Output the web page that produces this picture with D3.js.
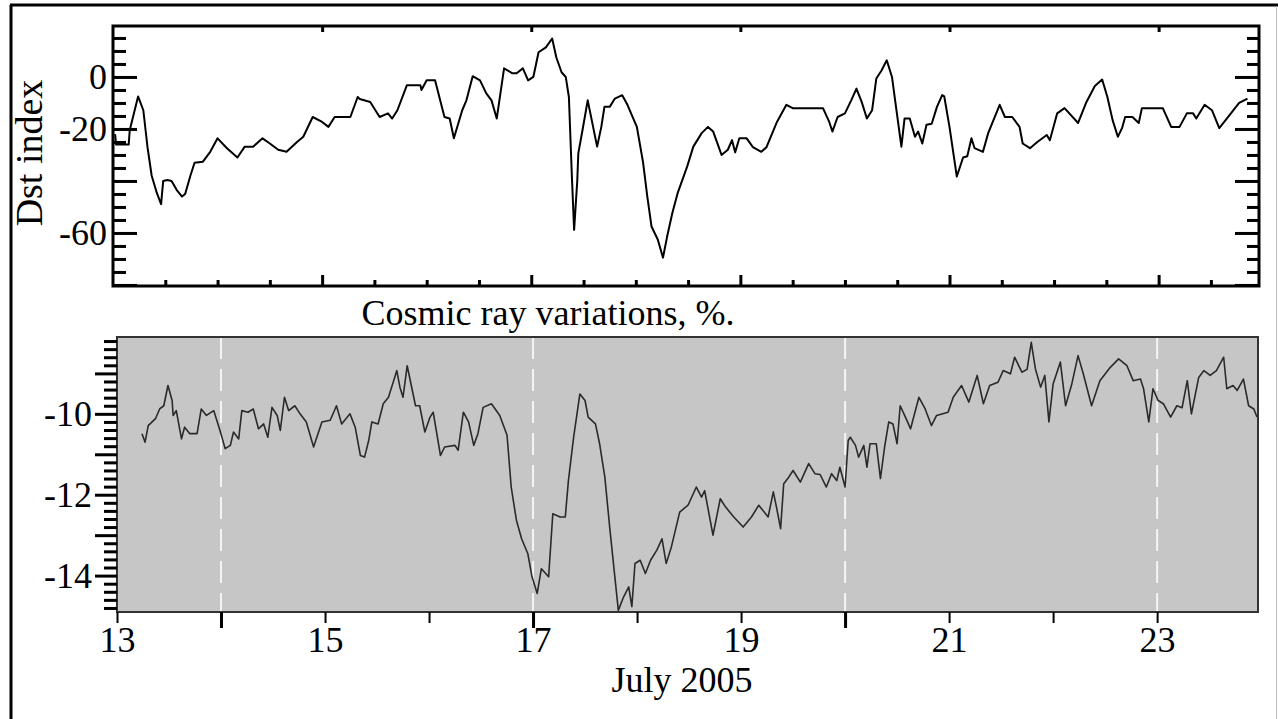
<!DOCTYPE html>
<html>
<head>
<meta charset="utf-8">
<script src="https://cdn.jsdelivr.net/npm/d3@7"></script>
<style>
  body { margin: 0; background: #fff; }
  text { font-family: "Liberation Serif", "Times New Roman", serif; fill: #000; }
</style>
</head>
<body>
<div id="chart"></div>
<script>

// Dst index, July 2005 (day of month, nT)
var dstDays = [13.02,13.03,13.15,13.16,13.24,13.29,13.33,13.37,13.42,13.46,13.48,13.52,13.56,13.61,13.66,13.69,13.74,13.78,13.86,13.93,
  14.00,14.09,14.19,14.26,14.34,14.43,14.50,14.58,14.66,14.76,14.82,14.91,15.00,15.06,15.12,15.27,15.34,15.36,15.46,15.55,
  15.63,15.67,15.72,15.81,15.94,15.95,16.00,16.08,16.17,16.22,16.26,16.34,16.38,16.44,16.51,16.57,16.62,16.67,16.74,16.82,
  16.86,16.92,16.97,17.02,17.07,17.14,17.20,17.24,17.29,17.33,17.36,17.39,17.41,17.44,17.45,17.49,17.54,17.63,17.67,17.70,
  17.75,17.80,17.87,17.92,18.01,18.07,18.11,18.15,18.21,18.26,18.30,18.35,18.40,18.49,18.55,18.63,18.69,18.74,18.82,18.88,
  18.92,18.95,18.99,19.06,19.12,19.20,19.25,19.35,19.44,19.50,19.79,19.85,19.88,19.93,20.00,20.06,20.11,20.16,20.21,20.26,
  20.30,20.35,20.40,20.45,20.48,20.54,20.57,20.62,20.67,20.70,20.74,20.78,20.83,20.88,20.93,20.95,21.00,21.07,21.13,21.17,
  21.21,21.24,21.32,21.37,21.48,21.53,21.60,21.67,21.70,21.77,21.84,21.93,21.96,22.03,22.10,22.23,22.31,22.39,22.46,22.51,
  22.56,22.61,22.65,22.68,22.75,22.81,22.84,23.04,23.12,23.20,23.27,23.33,23.36,23.44,23.51,23.58,23.68,23.77,23.85];
var dstValues = [-22,-26,-26,-20.5,-7.5,-12.8,-27,-38,-44.7,-48.9,-40,-39.6,-40,-43.5,-46,-45,-38,-33,-32.6,-28.8,
  -23.6,-27.4,-31,-26.8,-26.8,-23.6,-25.6,-28,-28.8,-25,-23,-15.4,-17.3,-19.2,-15.4,-15.4,-7.7,-8.5,-9.6,-15.4,
  -14,-16,-12.8,-3.2,-3.2,-5,-1.3,-1.3,-15.4,-16,-23.6,-12.8,-9,0.3,-1.3,-6.3,-9,-16,3.3,1.4,
  1.4,3.3,-1.3,0,9.5,11.4,14.8,7.5,1.8,0,-7.7,-39.6,-58.8,-40,-29.4,-20.5,-9,-26.8,-19.2,-11.5,
  -11.5,-8.3,-7,-10.7,-19.2,-33,-46,-57.5,-62.5,-69.5,-61.3,-52.2,-44.7,-34.6,-26.8,-21.6,-19.2,-21,-30,-28,
  -24.3,-29,-23.6,-23.6,-27,-28.8,-27,-17.3,-10.7,-12,-12,-17.3,-21,-15.4,-14,-9,-4.5,-9.6,-16,-12.8,
  -0.6,2.5,6.4,0,-9,-26.8,-16,-16,-23,-21,-25.6,-18.4,-18,-11.5,-7,-7.5,-19.2,-38.3,-31,-30.5,
  -23.6,-27.4,-28.8,-21.6,-10.7,-15.4,-15.4,-19.2,-25.6,-27.4,-25,-22.3,-24.3,-14,-12,-17.7,-9.6,-3.5,-1,-7.7,
  -16.6,-23,-19.7,-15.4,-15.4,-17.7,-12,-12,-19.2,-19.2,-14,-14,-16,-10.7,-12.8,-19.7,-14.6,-10,-8.3];

// cosmic ray variations, %
var crDays = [13.24,13.27,13.30,13.37,13.41,13.45,13.49,13.53,13.54,13.57,13.62,13.65,13.70,13.77,13.81,13.86,13.93,13.99,14.04,14.09,
  14.12,14.17,14.20,14.26,14.31,14.36,14.41,14.45,14.49,14.54,14.57,14.61,14.65,14.71,14.76,14.82,14.89,14.97,15.05,15.11,
  15.16,15.24,15.29,15.34,15.38,15.42,15.45,15.51,15.56,15.61,15.66,15.69,15.72,15.75,15.79,15.87,15.91,15.96,16.01,16.04,
  16.11,16.15,16.25,16.28,16.33,16.38,16.43,16.47,16.52,16.60,16.68,16.75,16.79,16.84,16.89,16.95,16.99,17.04,17.08,17.15,
  17.19,17.26,17.31,17.34,17.39,17.45,17.50,17.53,17.60,17.64,17.69,17.74,17.79,17.82,17.87,17.92,17.95,17.98,18.03,18.08,
  18.13,18.19,18.24,18.28,18.33,18.41,18.49,18.57,18.62,18.65,18.73,18.80,18.85,18.93,19.02,19.10,19.17,19.26,19.31,19.34,
  19.38,19.41,19.46,19.50,19.57,19.65,19.71,19.76,19.82,19.87,19.92,19.95,20.00,20.03,20.05,20.10,20.13,20.18,20.21,20.24,
  20.30,20.34,20.38,20.42,20.46,20.50,20.53,20.58,20.63,20.71,20.77,20.83,20.88,20.99,21.04,21.12,21.19,21.27,21.33,21.39,
  21.47,21.52,21.59,21.63,21.70,21.75,21.79,21.83,21.88,21.92,21.96,22.00,22.07,22.12,22.18,22.24,22.29,22.37,22.45,22.55,
  22.63,22.71,22.77,22.84,22.87,22.92,22.96,23.01,23.06,23.13,23.19,23.24,23.29,23.33,23.40,23.45,23.51,23.57,23.64,23.67,
  23.73,23.77,23.83,23.88,23.93,23.96];
var crValues = [-10.49,-10.7,-10.29,-10.12,-9.88,-9.8,-9.3,-9.67,-10.04,-9.92,-10.62,-10.33,-10.49,-10.49,-9.88,-10.04,-9.92,-10.41,-10.86,-10.78,
  -10.45,-10.62,-9.92,-9.96,-9.88,-10.37,-10.25,-10.58,-9.84,-10.04,-10.41,-9.59,-9.92,-9.8,-10,-10.2,-10.82,-10.2,-10.16,-9.8,
  -10.25,-10,-10.33,-11.03,-11.07,-10.66,-10.2,-10.25,-9.75,-9.59,-9.18,-8.93,-9.34,-9.59,-8.81,-9.8,-9.8,-10.45,-10.08,-9.96,
  -11.03,-10.82,-10.78,-10.9,-9.96,-10.2,-10.78,-10.49,-9.84,-9.75,-10.04,-10.53,-11.81,-12.63,-13.09,-13.46,-14.03,-14.44,-13.83,-14.03,
  -12.47,-12.55,-12.55,-11.65,-10.58,-9.51,-9.67,-10.08,-10.25,-10.74,-11.56,-12.88,-14.12,-14.86,-14.53,-14.28,-14.77,-13.7,-13.62,-13.95,
  -13.62,-13.37,-13.09,-13.7,-13.29,-12.43,-12.26,-11.81,-12.06,-11.9,-13.0,-12.1,-12.3,-12.55,-12.8,-12.55,-12.26,-12.55,-11.93,-12.3,
  -12.84,-11.73,-11.56,-11.4,-11.69,-11.23,-11.48,-11.5,-11.81,-11.48,-11.65,-11.32,-11.81,-10.66,-10.58,-10.78,-11.07,-10.78,-11.32,-10.74,
  -10.74,-11.6,-10.82,-10.2,-10.25,-10.74,-9.8,-10.08,-10.37,-9.59,-9.88,-10.29,-10.04,-9.96,-9.59,-9.3,-9.71,-9.05,-9.75,-9.3,
  -9.22,-8.93,-9.01,-8.6,-8.97,-8.9,-8.23,-8.89,-9.34,-9.05,-10.2,-9.26,-8.72,-9.8,-9.26,-8.56,-9.01,-9.8,-9.18,-8.85,
  -8.64,-8.81,-9.18,-9.14,-9.38,-10.2,-9.38,-9.67,-9.75,-10.08,-9.8,-9.85,-9.18,-10,-9.1,-8.93,-9.05,-8.93,-8.6,-9.38,
  -9.3,-9.42,-9.14,-9.8,-9.88,-10.08];

var dstLabelTicks = [0, -20, -60];
var crLabelTicks = [-10, -12, -14];
var dayLabels = [13, 15, 17, 19, 21, 23];
var dashedDays = [14, 17, 20, 23];

var width = 1278, height = 719;

var svg = d3.select("#chart").append("svg")
  .attr("width", width)
  .attr("height", height);

// outer frame of the scanned figure
svg.append("line").attr("x1", 11).attr("y1", 5).attr("x2", 11).attr("y2", height)
  .attr("stroke", "#000").attr("stroke-width", 3);
svg.append("line").attr("x1", 10).attr("y1", 5).attr("x2", width).attr("y2", 5)
  .attr("stroke", "#000").attr("stroke-width", 3);
svg.append("line").attr("x1", 1276.5).attr("y1", 6).attr("x2", 1276.5).attr("y2", height)
  .attr("stroke", "#bbb").attr("stroke-width", 1);

// ---------- upper panel: Dst ----------
var pTop = {left: 113, right: 1259, top: 26, bottom: 286};

var xTop = d3.scaleLinear().domain([13, 23.96]).range([pTop.left, pTop.right]);
var yTop = d3.scaleLinear().domain([-80.4, 19.6]).range([pTop.bottom, pTop.top]);

var dst = dstDays.map(function(d, i) { return {day: d, v: dstValues[i]}; });

var minorDst = d3.range(-80, 20, 5).filter(function(v) { return v % 20 != 0; });
var majorDst = d3.range(-80, 20, 20);

function clean(g) {
  g.select(".domain").remove();
  g.selectAll(".tick line").attr("stroke", "#000").attr("stroke-width", 3);
  g.selectAll("text").attr("font-size", 36).attr("fill", "#000");
}

svg.append("g").attr("transform", "translate(" + pTop.left + ",0)")
  .call(d3.axisLeft(yTop).tickValues(minorDst).tickSizeInner(-13).tickFormat(""))
  .call(clean);
svg.append("g").attr("transform", "translate(" + pTop.left + ",0)")
  .call(d3.axisLeft(yTop).tickValues(majorDst).tickSizeInner(-24).tickPadding(6)
    .tickFormat(function(d) { return dstLabelTicks.indexOf(d) >= 0 ? d : ""; }))
  .call(clean);
svg.append("g").attr("transform", "translate(" + pTop.right + ",0)")
  .call(d3.axisLeft(yTop).tickValues(minorDst).tickSizeInner(12).tickFormat(""))
  .call(clean);
svg.append("g").attr("transform", "translate(" + pTop.right + ",0)")
  .call(d3.axisLeft(yTop).tickValues(majorDst).tickSizeInner(24).tickFormat(""))
  .call(clean);

var oddDays = [15, 17, 19, 21, 23];
svg.append("g").attr("transform", "translate(0," + pTop.top + ")")
  .call(d3.axisBottom(xTop).tickValues(oddDays).tickSizeInner(6).tickFormat(""))
  .call(clean);
svg.append("g").attr("transform", "translate(0," + pTop.bottom + ")")
  .call(d3.axisTop(xTop).tickValues(d3.range(13.5, 24, 0.5).filter(function(d) { return oddDays.indexOf(d) < 0; }))
    .tickSizeInner(6).tickFormat(""))
  .call(clean);
svg.append("g").attr("transform", "translate(0," + pTop.bottom + ")")
  .call(d3.axisTop(xTop).tickValues(oddDays).tickSizeInner(11).tickFormat(""))
  .call(clean);

svg.append("path")
  .datum(dst)
  .attr("fill", "none")
  .attr("stroke", "#000")
  .attr("stroke-width", 2)
  .attr("stroke-linejoin", "round")
  .attr("d", d3.line().x(function(d) { return xTop(d.day); }).y(function(d) { return yTop(d.v); }));

svg.append("rect")
  .attr("x", pTop.left).attr("y", pTop.top)
  .attr("width", pTop.right - pTop.left).attr("height", pTop.bottom - pTop.top)
  .attr("fill", "none").attr("stroke", "#000").attr("stroke-width", 3);

svg.append("text")
  .attr("transform", "translate(42,153) rotate(-90)")
  .attr("text-anchor", "middle")
  .attr("font-size", 38)
  .text("Dst index");

// ---------- lower panel: cosmic rays ----------
var pBot = {left: 117, right: 1258, top: 337, bottom: 612};

var xBot = d3.scaleLinear().domain([13, 23.97]).range([pBot.left, pBot.right]);
var yBot = d3.scaleLinear().domain([-14.9, -8.1]).range([pBot.bottom, pBot.top]);

var cr = crDays.map(function(d, i) { return {day: d, v: crValues[i]}; });

svg.append("rect")
  .attr("x", pBot.left).attr("y", pBot.top)
  .attr("width", pBot.right - pBot.left).attr("height", pBot.bottom - pBot.top)
  .attr("fill", "#c6c6c6");

svg.selectAll(".dayline")
  .data(dashedDays)
  .enter()
  .append("line")
  .attr("class", "dayline")
  .attr("x1", function(d) { return xBot(d); })
  .attr("x2", function(d) { return xBot(d); })
  .attr("y1", pBot.top)
  .attr("y2", pBot.bottom)
  .attr("stroke", "#f4f4f4")
  .attr("stroke-width", 2)
  .attr("stroke-dasharray", "22,10");

svg.append("path")
  .datum(cr)
  .attr("fill", "none")
  .attr("stroke", "#2a2a2a")
  .attr("stroke-width", 1.6)
  .attr("stroke-linejoin", "round")
  .attr("d", d3.line().x(function(d) { return xBot(d.day); }).y(function(d) { return yBot(d.v); }));

svg.append("rect")
  .attr("x", pBot.left).attr("y", pBot.top)
  .attr("width", pBot.right - pBot.left).attr("height", pBot.bottom - pBot.top)
  .attr("fill", "none").attr("stroke", "#333").attr("stroke-width", 2);

var minorCr = d3.range(-14.8, -8.1, 0.2).map(function(v) { return Math.round(v * 10) / 10; })
  .filter(function(v) { return v % 1 != 0; });
var majorCr = d3.range(-14, -8, 1);

svg.append("g").attr("transform", "translate(" + pBot.left + ",0)")
  .call(d3.axisLeft(yBot).tickValues(minorCr).tickSizeInner(13).tickFormat(""))
  .call(clean);
svg.append("g").attr("transform", "translate(" + pBot.left + ",0)")
  .call(d3.axisLeft(yBot).tickValues(majorCr).tickSizeInner(22).tickPadding(3)
    .tickFormat(function(d) { return crLabelTicks.indexOf(d) >= 0 ? d : ""; }))
  .call(clean);

svg.append("g").attr("transform", "translate(0," + pBot.bottom + ")")
  .call(d3.axisBottom(xBot).tickValues(d3.range(13, 24, 1)).tickSizeInner(11).tickPadding(3)
    .tickFormat(function(d) { return dayLabels.indexOf(d) >= 0 ? d : ""; }))
  .call(clean)
  .call(function(g) { g.selectAll(".tick line").attr("stroke-width", 2); });
svg.append("g").attr("transform", "translate(0," + pBot.bottom + ")")
  .call(d3.axisBottom(xBot).tickValues([14, 17, 20]).tickSizeInner(16).tickFormat(""))
  .call(clean);

svg.append("text")
  .attr("x", 548).attr("y", 325)
  .attr("text-anchor", "middle")
  .attr("font-size", 36)
  .text("Cosmic ray variations, %.");

svg.append("text")
  .attr("x", 682).attr("y", 692)
  .attr("text-anchor", "middle")
  .attr("font-size", 36)
  .text("July 2005");

</script>
</body>
</html>
